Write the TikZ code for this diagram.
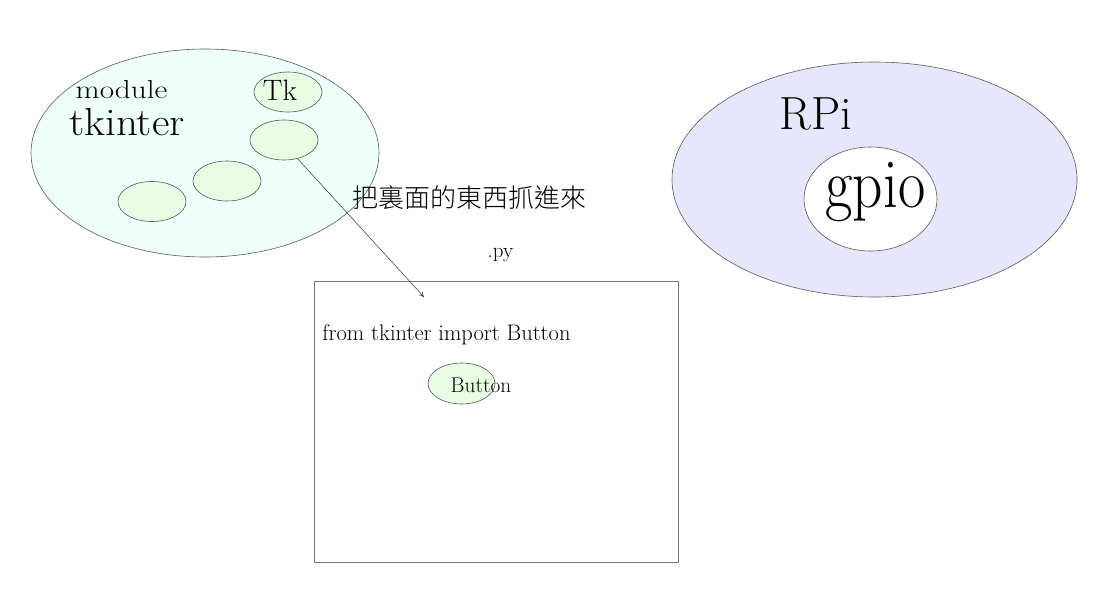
\documentclass[tikz,border=0pt]{standalone}
\usepackage{fontspec}
\usepackage{graphicx}
\newfontfamily\cjk{Noto Sans CJK TC}[UprightFont=* Light]
\usetikzlibrary{shapes.geometric,arrows.meta}
\definecolor{tkfill}{HTML}{EEFEF9}
\definecolor{subfill}{HTML}{E8FCE4}
\definecolor{rpifill}{HTML}{E6E6FC}
\definecolor{edge}{HTML}{5A5A5A}
\definecolor{boxedge}{HTML}{777777}
\begin{document}
\begin{tikzpicture}[x=1pt,y=-1pt,
  blob/.style={ellipse,draw=edge,line width=0.6pt,inner sep=0pt},
  smallblob/.style={blob,fill=subfill,minimum width=68pt,minimum height=40pt},
  lbl/.style={inner sep=0pt,anchor=base,text=black},
  filebox/.style={rectangle,draw=boxedge,line width=0.9pt,inner sep=0pt,minimum width=364pt,minimum height=281pt},
  link/.style={draw=black!80,line width=0.5pt,-{To[length=5pt,width=5pt]}}
]
\fill[white] (0,0) rectangle (1097,603);
\useasboundingbox (0,0) rectangle (1097,603);

% module tkinter
\node[blob,fill=tkfill,minimum width=348pt,minimum height=208pt] (tk) at (205,153) {};
\node[smallblob] (etk) at (288,92) {};
\node[smallblob] (e2) at (284,140) {};
\node[smallblob] (e3) at (227,181) {};
\node[smallblob] (e4) at (152,201.5) {};
\node[lbl] (tmod) at (121.5,98.3) {\fontsize{26}{30}\selectfont\scalebox{1.2}[1]{module}};
\node[lbl] (ttk) at (127,135) {\fontsize{39}{43}\selectfont\scalebox{1.1}[1]{tkinter}};
\node[lbl] (tTk) at (280,100.7) {\fontsize{29.5}{33}\selectfont Tk};

% RPi
\node[blob,fill=rpifill,minimum width=405pt,minimum height=235pt] (rpi) at (874.5,179.5) {};
\node[blob,fill=white,minimum width=133pt,minimum height=104pt] (gpio) at (870.5,199) {};
\node[lbl] (trpi) at (816,129.3) {\fontsize{46.5}{50}\selectfont RPi};
\node[lbl] (tgpio) at (875.5,207) {\fontsize{70}{74}\selectfont\scalebox{0.85}[1]{gpio}};

% caption
\node[inner sep=0pt] (cap) at (469,197.5) {\cjk\fontsize{26}{30}\selectfont 把裏面的東西抓進來};

% .py file
\node[lbl] (tpy) at (500.5,257) {\fontsize{21}{24}\selectfont .py};
\node[filebox] (pyfile) at (496,421.5) {};
\node[lbl] (tfrom) at (446.5,340) {\fontsize{22.5}{26}\selectfont from tkinter import Button};
\node[smallblob,minimum width=67pt,minimum height=41pt] (ebtn) at (461.5,383.5) {};
\node[lbl] (tbtn) at (481,392.3) {\fontsize{21.3}{25}\selectfont Button};

% arrow
\coordinate (tip) at (424,297);
\draw[link] (e2.-54) -- (tip);
\end{tikzpicture}
\end{document}
